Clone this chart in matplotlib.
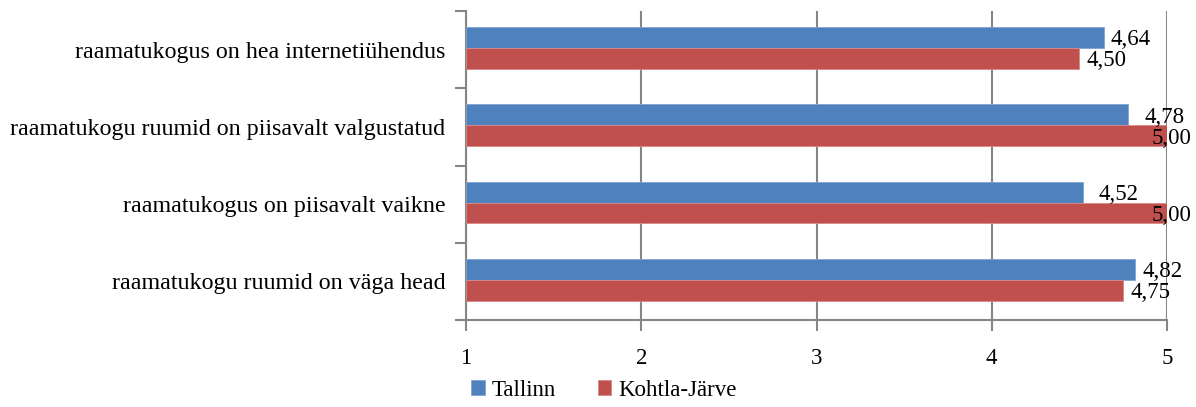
import numpy as np
import matplotlib.pyplot as plt

categories = [
    "raamatukogus on hea internetiühendus",
    "raamatukogu ruumid on piisavalt valgustatud",
    "raamatukogus on piisavalt vaikne",
    "raamatukogu ruumid on väga head",
]
tallinn = [4.64, 4.78, 4.52, 4.82]
kohtla = [4.50, 5.00, 5.00, 4.75]
series_names = ["Tallinn", "Kohtla-Järve"]

plt.rcParams["font.family"] = ["Liberation Serif", "DejaVu Serif"]

fig = plt.figure(figsize=(11.96, 4.07), dpi=100)
ax = fig.add_axes([466 / 1196, 1 - 320 / 407, (1167 - 466) / 1196, (320 - 11) / 407])

y = np.arange(len(categories))
h = 0.27
grid_col = "#868686"
y_t = y - h / 2 - 0.02
y_k = y + h / 2 - 0.02

ax.barh(y_t, np.array(tallinn) - 1, left=1, height=h, color="#4F81BD",
        edgecolor="#7FA3D0", linewidth=0.6, label=series_names[0], zorder=3)
ax.barh(y_k, np.array(kohtla) - 1, left=1, height=h, color="#C0504D",
        edgecolor="#D88A88", linewidth=0.6, label=series_names[1], zorder=3)

# labels: clamp at the right edge, nudge the upper one when the lower was clamped
for i in range(len(categories)):
    xk = kohtla[i] + 0.04
    clamped = xk > 4.91
    xk = min(xk, 4.91)
    xt = tallinn[i] + 0.04 + (0.05 if clamped else 0)
    ax.text(xt, y_t[i] + 0.03, f"{tallinn[i]:.2f}".replace(".", ","),
            ha="left", va="center", fontsize=16.5, zorder=4, clip_on=False)
    ax.text(xk, y_k[i] + 0.03, f"{kohtla[i]:.2f}".replace(".", ","),
            ha="left", va="center", fontsize=16.5, zorder=4, clip_on=False)

ax.set_xlim(1, 5)
ax.set_ylim(len(categories) - 0.5, -0.5)
ax.set_xticks([1, 2, 3, 4, 5])
ax.set_xticklabels(["1", "2", "3", "4", "5"], fontsize=16.5)
ax.xaxis.grid(True, color=grid_col, linewidth=1.5, zorder=0)

ax.set_yticks(y)
ax.set_yticklabels(categories, fontsize=17.3)
ax.set_yticks(np.arange(len(categories) + 1) - 0.5, minor=True)
ax.tick_params(axis="y", which="major", length=0, pad=15)
ax.tick_params(axis="y", which="minor", length=8, width=1.5, color=grid_col)
ax.tick_params(axis="x", which="major", length=8, width=1.5, color=grid_col, pad=12)

for s in ("top", "right"):
    ax.spines[s].set_visible(False)
for s in ("left", "bottom"):
    ax.spines[s].set_color(grid_col)
    ax.spines[s].set_linewidth(1.5)

leg = fig.legend(loc="lower center", bbox_to_anchor=(0.505, -0.035), ncol=2,
                 frameon=False, fontsize=16.5, handlelength=0.6, handleheight=0.6,
                 handletextpad=0.3, columnspacing=1.8)

fig.savefig("out.png", dpi=100)
